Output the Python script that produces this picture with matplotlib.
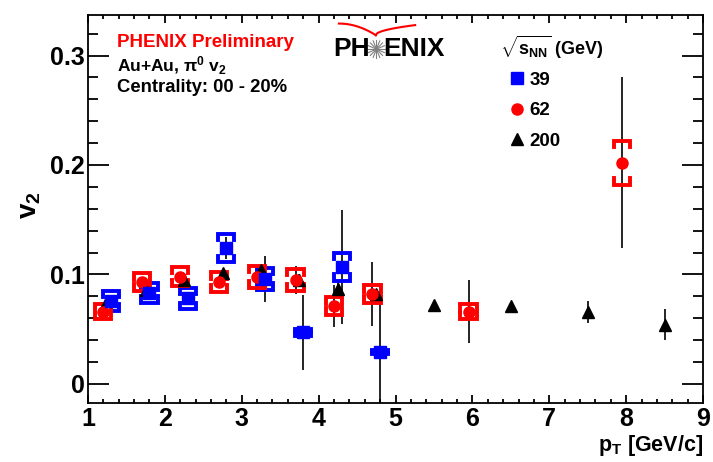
import numpy as np
import matplotlib
matplotlib.use('Agg')
import matplotlib.pyplot as plt
from matplotlib.ticker import MultipleLocator, FuncFormatter

plt.rcParams['font.family'] = ['Liberation Sans', 'DejaVu Sans']
plt.rcParams['font.weight'] = 'bold'
plt.rcParams['mathtext.fontset'] = 'custom'
plt.rcParams['mathtext.rm'] = 'Liberation Sans:bold'
plt.rcParams['mathtext.it'] = 'Liberation Sans:bold'
plt.rcParams['mathtext.bf'] = 'Liberation Sans:bold'

# 39 GeV (blue squares)
pt_39 = [1.3, 1.8, 2.3, 2.8, 3.3, 3.8, 4.3, 4.8]
v2_39 = [0.076, 0.083, 0.078, 0.124, 0.096, 0.047, 0.107, 0.029]
stat_39 = [0.003, 0.003, 0.003, 0.010, 0.021, 0.034, 0.052, 0.063]
sys_39 = [0.009, 0.009, 0.010, 0.013, 0.010, 0.003, 0.013, 0.002]

# 62 GeV (red circles)
pt_62 = [1.2, 1.7, 2.2, 2.7, 3.2, 3.7, 4.2, 4.7, 5.95, 7.95]
v2_62 = [0.066, 0.093, 0.098, 0.093, 0.098, 0.095, 0.071, 0.082, 0.066, 0.202]
stat_62 = [0.003, 0.003, 0.003, 0.004, 0.005, 0.013, 0.019, 0.029, 0.029, 0.078]
sys_62 = [0.007, 0.008, 0.009, 0.009, 0.010, 0.010, 0.008, 0.008, 0.007, 0.020]

# 200 GeV (black triangles)
pt_200 = [1.25, 1.75, 2.25, 2.75, 3.25, 3.75, 4.25, 4.75, 5.5, 6.5, 7.5, 8.5]
v2_200 = [0.076, 0.086, 0.095, 0.101, 0.104, 0.095, 0.087, 0.082, 0.072, 0.071, 0.066, 0.054]
stat_200 = [0.003, 0.003, 0.003, 0.004, 0.004, 0.005, 0.008, 0.005, 0.003, 0.003, 0.010, 0.014]

fig = plt.figure(figsize=(7.13, 4.62), dpi=100)
ax = fig.add_axes([0.1234, 0.1277, 0.8626, 0.8398])
ax.set_xlim(1, 9)
ax.set_ylim(-0.0175, 0.337)


def brackets(x, y, s, color, w=0.105, tick=0.006):
    for xi, yi, si in zip(x, y, s):
        t = min(tick, si)
        for sign in (1, -1):
            yy = yi + sign * si
            ax.plot([xi - w, xi - w, xi + w, xi + w],
                    [yy - sign * t, yy, yy, yy - sign * t],
                    color=color, lw=2.8, solid_joinstyle='miter', zorder=3)


# statistical errors
ax.errorbar(pt_39, v2_39, yerr=stat_39, fmt='none', ecolor='black', elinewidth=1.2, zorder=2)
ax.errorbar(pt_62, v2_62, yerr=stat_62, fmt='none', ecolor='black', elinewidth=1.2, zorder=2)
ax.errorbar(pt_200, v2_200, yerr=stat_200, fmt='none', ecolor='black', elinewidth=1.2, zorder=2)

# systematic brackets
brackets(pt_39, v2_39, sys_39, 'blue')
brackets(pt_62, v2_62, sys_62, 'red')

ax.plot(pt_200, v2_200, '^', color='black', ms=8, mec='black', zorder=4, label='200')
ax.plot(pt_39, v2_39, 's', color='blue', ms=8.5, mec='blue', zorder=5, label='39')
ax.plot(pt_62, v2_62, 'o', color='red', ms=8, mec='red', zorder=4, label='62')

# axes style (ROOT-like)
ax.xaxis.set_major_locator(MultipleLocator(1))
ax.xaxis.set_minor_locator(MultipleLocator(0.2))
ax.yaxis.set_major_locator(MultipleLocator(0.1))
ax.yaxis.set_minor_locator(MultipleLocator(0.02))
ax.yaxis.set_major_formatter(FuncFormatter(lambda v, p: '0' if abs(v) < 1e-9 else f'{v:.1f}'))
ax.tick_params(axis='both', which='both', direction='in', top=True, right=True,
               labelsize=18, width=1.3)
ax.tick_params(axis='y', which='major', length=15, pad=2)
ax.tick_params(axis='y', which='minor', length=7.5)
ax.tick_params(axis='x', which='major', length=6, pad=3)
ax.tick_params(axis='x', which='minor', length=3)
for sp in ax.spines.values():
    sp.set_linewidth(1.3)

fig.text(30 / 713, 1 - 205 / 462, r'$\mathregular{v_2}$', rotation=90,
         fontsize=20, ha='center', va='center')
fig.text(0.986, 1 - 446 / 462, r'$\mathregular{p_T}$ [GeV/c]', fontsize=15.5,
         ha='right', va='center')

# annotation texts
ax.text(0.047, 0.928, 'PHENIX Preliminary', color='red', fontsize=13.5,
        transform=ax.transAxes, va='center')
ax.text(0.047, 0.869, r'Au+Au, $\mathregular{\pi^0}$ $\mathregular{v_2}$', fontsize=12.5,
        transform=ax.transAxes, va='center')
ax.text(0.047, 0.812, 'Centrality: 00 - 20%', fontsize=13.3,
        transform=ax.transAxes, va='center')

# PHENIX logo
ax.text(0.4585, 0.912, 'PH', fontsize=19, ha='right', va='center', transform=ax.transAxes)
ax.text(0.480, 0.912, 'ENIX', fontsize=19, ha='left', va='center', transform=ax.transAxes)
for ang in np.linspace(0, np.pi, 8, endpoint=False):
    dx, dy = 0.014 * np.cos(ang), 0.023 * np.sin(ang)
    ax.plot([0.469 - dx, 0.469 + dx], [0.912 - dy, 0.912 + dy], color='gray',
            lw=0.8, transform=ax.transAxes)
t = np.linspace(0, 1, 40)
ax.plot(0.408 + 0.060 * t, 0.978 - 0.030 * t ** 2, color='red', lw=1.5, transform=ax.transAxes)
ax.plot(0.468 + 0.064 * t, 0.948 + 0.026 * np.sqrt(t), color='red', lw=1.5, transform=ax.transAxes)

# legend
ax.text(0.670, 0.9175, r'$\mathregular{\sqrt{s_{NN}}}$ (GeV)', fontsize=13,
        transform=ax.transAxes, va='center', ha='left')
hs, ls = ax.get_legend_handles_labels()
order = [1, 2, 0]
leg = ax.legend([hs[i] for i in order], [ls[i] for i in order],
                loc='upper left', bbox_to_anchor=(0.683, 0.854), frameon=False,
                fontsize=13.5, labelspacing=0.72, handlelength=1.0,
                handletextpad=0.15, borderaxespad=0, borderpad=0)

fig.savefig('out.png', dpi=100)
